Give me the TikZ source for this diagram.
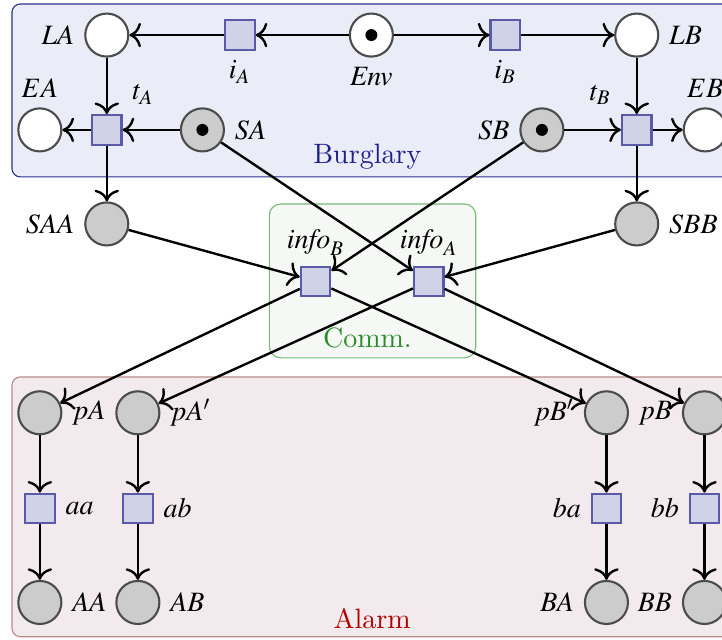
\documentclass[tikz,border=0pt]{standalone}
\usepackage{mathptmx}
\usetikzlibrary{arrows.meta}
\definecolor{trfill}{RGB}{208,210,232}
\definecolor{trdraw}{RGB}{90,90,168}
\definecolor{burgfill}{RGB}{234,237,247}
\definecolor{burgdraw}{RGB}{45,45,145}
\definecolor{burgtext}{RGB}{30,30,140}
\definecolor{commfill}{RGB}{246,248,245}
\definecolor{commdraw}{RGB}{120,185,120}
\definecolor{commtext}{RGB}{40,140,40}
\definecolor{alarmfill}{RGB}{242,234,236}
\definecolor{alarmdraw}{RGB}{185,140,140}
\definecolor{alarmtext}{RGB}{180,0,0}
\tikzset{
  place/.style={circle, draw=black!70, fill=white, line width=0.75pt, minimum size=5.4mm, inner sep=0pt},
  gplace/.style={place, fill=black!20},
  transition/.style={rectangle, draw=trdraw, fill=trfill, line width=0.75pt, minimum size=3.7mm, inner sep=0pt},
  arc/.style={->, >={To[scale=1.2]}, line width=0.85pt}
}
\begin{document}
\begin{tikzpicture}
  \useasboundingbox (0,0) rectangle (9.06,-8.02);
  \draw[draw=burgdraw, fill=burgfill, rounded corners=3pt] (0.15,-0.05) rectangle (9.5,-2.22);
  \draw[draw=commdraw, fill=commfill, rounded corners=4pt] (3.38,-2.56) rectangle (5.97,-4.49);
  \draw[draw=alarmdraw, fill=alarmfill, rounded corners=3pt] (0.15,-4.73) rectangle (9.5,-7.99);
  \node[text=burgtext] (burglbl) at (4.61,-1.97) {Burglary};
  \node[text=commtext] (commlbl) at (4.61,-4.24) {Comm.};
  \node[text=alarmtext] (alarmlbl) at (4.67,-7.76) {Alarm};

  \node[place, label=left:$LA$] (LA) at (1.34,-0.44) {};
  \node[transition, label=below:$i_A$] (iA) at (3.01,-0.44) {};
  \node[place, label=below:$\mathit{Env}$] (Env) at (4.66,-0.44) {};
  \node[transition, label=below:$i_B$] (iB) at (6.34,-0.44) {};
  \node[place, label=right:$LB$] (LB) at (7.99,-0.44) {};

  \node[place, label=above:$EA$] (EA) at (0.50,-1.63) {};
  \node[transition, label=above right:$t_A$] (tA) at (1.34,-1.63) {};
  \node[gplace, label=right:$SA$] (SA) at (2.54,-1.63) {};
  \node[gplace, label=left:$SB$] (SB) at (6.80,-1.63) {};
  \node[transition, label=above left:$t_B$] (tB) at (7.99,-1.63) {};
  \node[place, label=above:$EB$] (EB) at (8.85,-1.63) {};
  \foreach \p in {Env, SA, SB}
    \fill (\p.center) circle (0.075);

  \node[gplace, label=left:$SAA$] (SAA) at (1.34,-2.81) {};
  \node[gplace, label=right:$SBB$] (SBB) at (7.99,-2.81) {};
  \node[transition, label=above:$\mathit{info}_B$] (infoB) at (3.96,-3.53) {};
  \node[transition, label=above:$\mathit{info}_A$] (infoA) at (5.38,-3.53) {};

  \node[gplace, label=right:$pA$] (pA) at (0.50,-5.18) {};
  \node[gplace, label=right:$pA'$] (pAp) at (1.73,-5.18) {};
  \node[gplace, label=left:$pB'$] (pBp) at (7.61,-5.18) {};
  \node[gplace, label=left:$pB$] (pB) at (8.84,-5.18) {};
  \node[transition, label=right:$aa$] (aa) at (0.50,-6.38) {};
  \node[transition, label=right:$ab$] (ab) at (1.73,-6.38) {};
  \node[transition, label=left:$ba$] (ba) at (7.61,-6.38) {};
  \node[transition, label=left:$bb$] (bb) at (8.84,-6.38) {};
  \node[gplace, label=right:$AA$] (AA) at (0.50,-7.56) {};
  \node[gplace, label=right:$AB$] (AB) at (1.73,-7.56) {};
  \node[gplace, label=left:$BA$] (BA) at (7.61,-7.56) {};
  \node[gplace, label=left:$BB$] (BB) at (8.84,-7.56) {};

  \draw[arc] (Env) -- (iA);
  \draw[arc] (iA) -- (LA);
  \draw[arc] (Env) -- (iB);
  \draw[arc] (iB) -- (LB);
  \draw[arc] (LA) -- (tA);
  \draw[arc] (SA) -- (tA);
  \draw[arc] (tA) -- (EA);
  \draw[arc] (tA) -- (SAA);
  \draw[arc] (LB) -- (tB);
  \draw[arc] (SB) -- (tB);
  \draw[arc] (tB) -- (EB);
  \draw[arc] (tB) -- (SBB);
  \draw[arc] (SA) -- (infoA);
  \draw[arc] (SB) -- (infoB);
  \draw[arc] (SAA) -- (infoB);
  \draw[arc] (SBB) -- (infoA);
  \draw[arc] (infoB) -- (pA);
  \draw[arc] (infoB) -- (pBp);
  \draw[arc] (infoA) -- (pAp);
  \draw[arc] (infoA) -- (pB);
  \foreach \a/\b/\c in {pA/aa/AA, pAp/ab/AB, pBp/ba/BA, pB/bb/BB} {
    \draw[arc] (\a) -- (\b);
    \draw[arc] (\b) -- (\c);
  }
\end{tikzpicture}
\end{document}
